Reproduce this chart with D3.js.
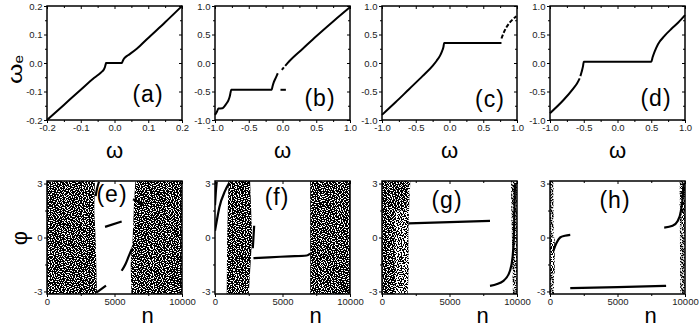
<!DOCTYPE html>
<html lang="en">
<head>
<meta charset="UTF-8">
<title>omega_e and phi panels</title>
<script src="https://cdn.jsdelivr.net/npm/d3@7"></script>
<style>
body { margin: 0; background: #fff; }
text { font-family: "Liberation Sans", Arial, sans-serif; }
</style>
</head>
<body>
<script>
const PI = Math.PI;

// top row: omega_e against omega, every panel is a list of curve pieces
const curveA = [
  [[-0.2,-0.2],[-0.15,-0.147],[-0.1,-0.094],[-0.06,-0.052],[-0.04,-0.033],[-0.032,-0.024],[-0.028,-0.013],
   [-0.026,-0.004],[-0.025,0],[0.022,0],[0.024,0.006],[0.027,0.013],[0.032,0.02],[0.04,0.027],[0.066,0.05],
   [0.1,0.088],[0.15,0.143],[0.2,0.2]]
];
const curveB = [
  [[-1,-0.91],[-0.97,-0.85],[-0.95,-0.8],[-0.89,-0.795],[-0.86,-0.76],[-0.83,-0.71],[-0.8,-0.65],[-0.78,-0.58],
   [-0.77,-0.52],[-0.76,-0.47],[-0.16,-0.47],[-0.15,-0.42],[-0.13,-0.34],[-0.1,-0.26],[-0.07,-0.18]],
  [[-0.03,-0.47],[0.05,-0.47]],
  [[-0.01,-0.12],[0.02,-0.075]],
  [[0.04,-0.05],[0.1,0.03],[0.3,0.25],[0.5,0.47],[0.75,0.73],[1,0.98]]
];
const curveC = [
  [[-1,-0.91],[-0.8,-0.69],[-0.6,-0.46],[-0.4,-0.23],[-0.25,-0.05],[-0.19,0.04],[-0.14,0.13],[-0.11,0.21],
   [-0.09,0.28],[-0.08,0.35],[0.77,0.35]],
  [[0.77,0.43],[0.81,0.55],[0.85,0.64],[0.9,0.72],[0.95,0.78],[0.99,0.82]]
];
const curveD = [
  [[-1,-0.88],[-0.8,-0.65],[-0.65,-0.44],[-0.6,-0.36],[-0.56,-0.27]],
  [[-0.55,-0.23],[-0.53,-0.15],[-0.51,-0.05],[-0.5,0.02],[0.5,0.02],[0.52,0.1],[0.55,0.2],[0.6,0.33],
   [0.7,0.48],[0.8,0.6],[0.9,0.71],[1,0.84]]
];

// bottom row: phi against n. chaotic parts are outlines [n, phi] with a density name
const cloudsE = [
  ["dense", [[0,PI],[3550,PI],[3500,1.5],[3600,0],[3650,-1.5],[3700,-PI],[0,-PI]]],
  ["dense", [[6550,PI],[10000,PI],[10000,-PI],[6250,-PI],[6200,-1.5],[6350,0],[6450,2]]],
  ["dense", [[6250,-0.5],[6900,-0.8],[7000,-1.8],[6250,-1.8]]]
];
const linesE = [
  [[3600,2.3],[3700,2.7],[3850,3.1]],
  [[3680,-3.05],[4370,-2.68]],
  [[4300,0.59],[5530,0.89]],
  [[5530,-1.85],[5800,-1.5],[6050,-1.05],[6270,-0.65]],
  [[6370,2.13],[7130,1.85]]
];
const cloudsF = [
  ["dense", [[1000,PI],[2600,PI],[2750,0],[2500,-PI],[870,-PI],[900,0]]],
  ["dense", [[7050,PI],[10000,PI],[10000,-PI],[7050,-PI]]]
];
const linesF = [
  [[0,0.37],[125,0.9],[320,1.67],[745,2.59],[1070,3.05]],
  [[0,1.8],[60,2.5],[130,3.1]],
  [[2800,-0.6],[2850,0],[2900,0.65]],
  [[2850,-1.15],[4000,-1.1],[5500,-1.05],[6800,-1.0],[7050,-0.9]]
];
const cloudsG = [
  ["medium", [[0,PI],[2100,PI],[2000,1.5],[1950,0],[2000,-1.5],[1900,-PI],[0,-PI]]],
  ["dense", [[0,PI],[1900,PI],[1800,1.5],[0,1.5]]],
  ["dense", [[0,PI],[1000,PI],[900,-PI],[0,-PI]]],
  ["sparse", [[9550,PI],[10000,PI],[10000,-PI],[9700,-PI]]]
];
const linesG = [
  [[8000,-2.69],[9000,-2.41],[9480,-1.85],[9670,-1.11],[9780,0.37],[9850,2.96]],
  [[1950,0.78],[5000,0.85],[8000,0.92]]
];
const cloudsH = [
  ["sparse", [[0,PI],[250,PI],[300,-PI],[0,-PI]]],
  ["medium", [[0,0],[350,0],[350,-2],[0,-2]]],
  ["sparse", [[9600,PI],[10000,PI],[10000,-PI],[9650,-PI]]],
  ["medium", [[9700,3],[10000,3],[10000,0.5],[9750,0.5]]]
];
const linesH = [
  [[250,-0.74],[500,-0.28],[750,0],[1100,0.1],[1500,0.15]],
  [[8460,0.55],[9080,0.65],[9460,0.92],[9700,1.48],[9830,2.22],[9900,3.0]],
  [[1500,-2.82],[5000,-2.76],[8600,-2.69]]
];

const topLabels = ["(a)", "(b)", "(c)", "(d)"];
const bottomLabels = ["(e)", "(f)", "(g)", "(h)"];
const topDomains = [[-0.2, 0.2], [-1, 1], [-1, 1], [-1, 1]];
const topTicks = [[-0.2, -0.1, 0, 0.1, 0.2], [-1, -0.5, 0, 0.5, 1], [-1, -0.5, 0, 0.5, 1], [-1, -0.5, 0, 0.5, 1]];
const nTicks = [0, 5000, 10000];
const nMinor = [2500, 7500];
const phiTicks = [-3, 0, 3];
const phiMinor = [-1.5, 1.5];

const W = 700, H = 332;
const lefts = [47, 215, 382, 550], pw = 135;
const topY = [6, 120], botY = [181, 294];
const topLabelPos = [[148, 102], [320, 106], [490, 107], [656, 106]];
const botLabelPos = [[112, 202], [277, 205], [447, 208], [615, 208]];

const svg = d3.select("body").append("svg").attr("width", W).attr("height", H);
const defs = svg.append("defs");

// speckle tiles for the chaotic clouds
const tileP = [
  "x...x.....x..",
  "..x....x.....",
  ".....x....x.x",
  ".x.......x...",
  "....x.x......",
  "x.........x..",
  "...x..x.....x",
  ".......x.x...",
  ".x..x........",
  "......x...x.x",
  "..x.....x...."
];
const tileQ = [
  "..x.....x....x...",
  "x....x........x..",
  "...x......x....x.",
  ".x.....x.........",
  "....x.....x...x..",
  "x.......x......x.",
  "...x..x.......x..",
  ".........x.x.....",
  ".x...x..........x",
  "........x...x....",
  "..x..........x...",
  "......x..x.......",
  "x...........x...x"
];
function tile(id, rows, fill, s, shift) {
  const p = defs.append("pattern").attr("id", id).attr("patternUnits", "userSpaceOnUse")
    .attr("width", rows[0].length).attr("height", rows.length);
  if (shift) p.attr("patternTransform", `translate(${shift})`);
  rows.forEach((r, j) => [...r].forEach((c, i) => {
    if (c === "x") p.append("rect").attr("x", i).attr("y", j).attr("width", s).attr("height", s).attr("fill", fill);
  }));
}
tile("wA", tileP, "#fff", 1);
tile("wB", tileQ, "#fff", 1);
tile("wA2", tileP, "#fff", 1, "6,5");
tile("wB2", tileQ, "#fff", 1, "8,3");
tile("kA", tileP, "#000", 1.3);
tile("kB", tileQ, "#000", 1.3, "5,2");
const layers = {
  dense: ["#000", "url(#wA)", "url(#wB)"],
  medium: ["#000", "url(#wA)", "url(#wB)", "url(#wA2)", "url(#wB2)"],
  sparse: ["url(#kA)", "url(#kB)"]
};

function axes(g, x, y, xt, xm, yt, ym, fx, fy) {
  const [yb, yt0] = y.range(), [xl, xr] = x.range();
  const lab = a => a.call(s => s.select(".domain").remove())
    .call(s => s.selectAll("text").attr("font-size", 9.5).attr("fill", "#222")
      .attr("font-family", "'Liberation Sans', Arial, sans-serif"))
    .call(s => s.selectAll("line").attr("stroke-width", 1));
  g.append("g").attr("transform", `translate(0,${yb})`)
    .call(d3.axisBottom(x).tickValues(xt).tickSize(3).tickPadding(1.5).tickFormat(fx)).call(lab);
  g.append("g").attr("transform", `translate(0,${yb})`)
    .call(d3.axisBottom(x).tickValues(xm).tickSize(2).tickFormat("")).call(lab);
  g.append("g").attr("transform", `translate(${xl},0)`)
    .call(d3.axisLeft(y).tickValues(yt).tickSize(3).tickPadding(1.5).tickFormat(fy)).call(lab);
  g.append("g").attr("transform", `translate(${xl},0)`)
    .call(d3.axisLeft(y).tickValues(ym).tickSize(2).tickFormat("")).call(lab);
  g.append("g").attr("transform", `translate(0,${yt0})`)
    .call(d3.axisTop(x).tickValues(xt).tickSize(-3).tickFormat("")).call(lab);
  g.append("g").attr("transform", `translate(0,${yt0})`)
    .call(d3.axisTop(x).tickValues(xm).tickSize(-2).tickFormat("")).call(lab);
  g.append("g").attr("transform", `translate(${xr},0)`)
    .call(d3.axisRight(y).tickValues(yt).tickSize(-3).tickFormat("")).call(lab);
  g.append("g").attr("transform", `translate(${xr},0)`)
    .call(d3.axisRight(y).tickValues(ym).tickSize(-2).tickFormat("")).call(lab);
  g.append("rect").attr("x", xl).attr("y", yt0).attr("width", xr - xl).attr("height", yb - yt0)
    .attr("fill", "none").attr("stroke", "#000").attr("stroke-width", 1.5);
}

// top row
const topCurves = [curveA, curveB, curveC, curveD];
const dashed = { 2: [1] };
topCurves.forEach((pieces, i) => {
  const g = svg.append("g");
  const x = d3.scaleLinear().domain(topDomains[i]).range([lefts[i], lefts[i] + pw]);
  const y = d3.scaleLinear().domain(topDomains[i]).range(topY.slice().reverse());
  const line = d3.line().x(d => x(d[0])).y(d => y(d[1])).curve(d3.curveMonotoneX);
  pieces.forEach((p, k) => {
    g.append("path").attr("d", line(p)).attr("fill", "none").attr("stroke", "#000")
      .attr("stroke-width", 2).attr("stroke-dasharray", (dashed[i] || []).includes(k) ? "4 2" : null);
  });
  const minor = d3.pairs(topTicks[i]).map(([a, b]) => (a + b) / 2);
  axes(g, x, y, topTicks[i], minor, topTicks[i], minor, d => d.toFixed(1), d => d.toFixed(1));
  g.append("text").attr("x", topLabelPos[i][0]).attr("y", topLabelPos[i][1]).attr("text-anchor", "middle")
    .attr("font-size", 23).attr("letter-spacing", 1).text(topLabels[i]);
  g.append("text").attr("x", lefts[i] + pw / 2).attr("y", 158).attr("text-anchor", "middle")
    .attr("font-family", "'DejaVu Serif', serif").attr("font-size", 22).text("ω");
});

// bottom row
const bottomClouds = [cloudsE, cloudsF, cloudsG, cloudsH];
const bottomLines = [linesE, linesF, linesG, linesH];
bottomClouds.forEach((clouds, i) => {
  const g = svg.append("g");
  const x = d3.scaleLinear().domain([0, 10000]).range([lefts[i], lefts[i] + pw]);
  const y = d3.scaleLinear().domain([-PI, PI]).range(botY.slice().reverse());
  defs.append("clipPath").attr("id", "clip" + i).append("rect")
    .attr("x", lefts[i]).attr("y", botY[0]).attr("width", pw).attr("height", botY[1] - botY[0]);
  const inner = g.append("g").attr("clip-path", `url(#clip${i})`);
  const outline = d3.line().x(d => x(d[0])).y(d => y(d[1]));
  clouds.forEach(([level, pts]) => {
    layers[level].forEach(f => inner.append("path").attr("d", outline(pts) + "Z").attr("fill", f));
  });
  const line = d3.line().x(d => x(d[0])).y(d => y(d[1])).curve(d3.curveMonotoneX);
  bottomLines[i].forEach(p => inner.append("path").attr("d", line(p)).attr("fill", "none")
    .attr("stroke", "#000").attr("stroke-width", 2.2));
  axes(g, x, y, nTicks, nMinor, phiTicks, phiMinor, d => String(d), d => String(d));
  g.append("text").attr("x", botLabelPos[i][0]).attr("y", botLabelPos[i][1]).attr("text-anchor", "middle")
    .attr("font-size", 23).attr("letter-spacing", 1).text(bottomLabels[i]);
  g.append("text").attr("x", lefts[i] + pw / 2 + 33).attr("y", 323).attr("text-anchor", "middle")
    .attr("font-size", 22).text("n");
});

// y titles
const yt = svg.append("text").attr("transform", "translate(22,84) rotate(-90) scale(1.1,0.88)")
  .attr("font-family", "'DejaVu Serif', serif");
yt.append("tspan").attr("font-size", 24).text("ω");
yt.append("tspan").attr("font-size", 14).attr("dy", 1).attr("font-family", "'Liberation Sans', Arial, sans-serif").text("e");
svg.append("text").attr("transform", "translate(27,238) rotate(-90)").attr("text-anchor", "middle")
  .attr("font-family", "'DejaVu Sans', sans-serif").attr("font-size", 22).text("φ");
</script>
</body>
</html>
